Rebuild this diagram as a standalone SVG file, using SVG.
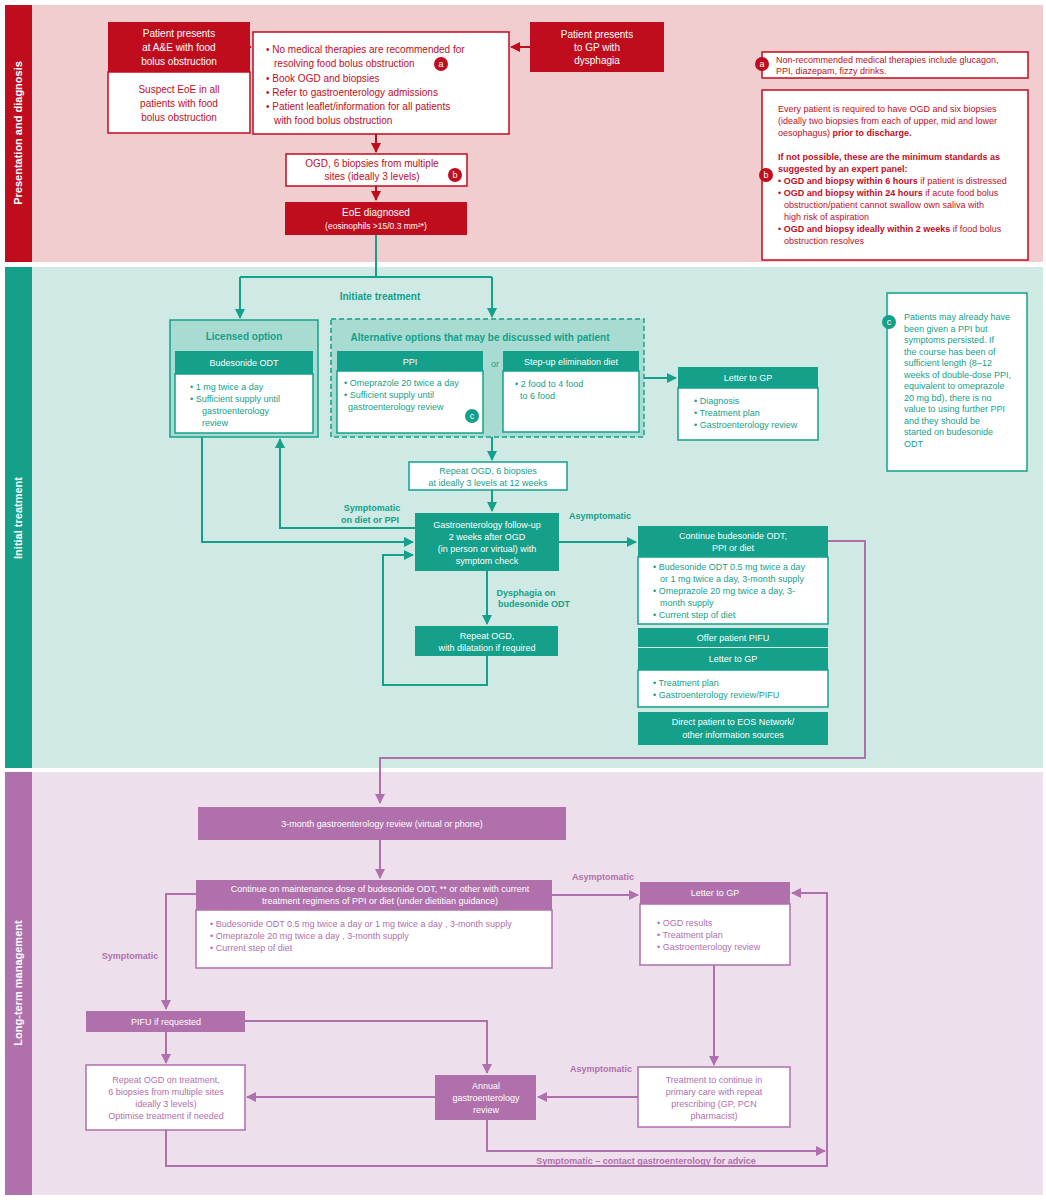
<svg xmlns="http://www.w3.org/2000/svg" width="1046" height="1200" viewBox="0 0 1046 1200">
<defs>
<marker id="ar" viewBox="0 0 10 10" refX="9" refY="5" markerWidth="5" markerHeight="5" orient="auto"><path d="M0,0 L10,5 L0,10 z" fill="#c00d1e"/></marker>
<marker id="at" viewBox="0 0 10 10" refX="9" refY="5" markerWidth="5" markerHeight="5" orient="auto"><path d="M0,0 L10,5 L0,10 z" fill="#14a08a"/></marker>
<marker id="ap" viewBox="0 0 10 10" refX="9" refY="5" markerWidth="5" markerHeight="5" orient="auto"><path d="M0,0 L10,5 L0,10 z" fill="#b070ac"/></marker>
</defs>
<style>
text{font-family:"Liberation Sans",Arial,sans-serif;font-size:10px}
.c{text-anchor:middle}
.w{fill:#fff}
.r{fill:#c00d1e}
.t{fill:#14a08a}
.p{fill:#b070ac}
.b{font-weight:bold}
.s{font-size:9px}
.n{font-size:8.5px}
.h{font-size:11px}
.rb{fill:#fff;stroke:#c00d1e;stroke-width:1.5}
.rf{fill:#c00d1e}
.tb{fill:#fff;stroke:#14a08a;stroke-width:1.5}
.tf{fill:#14a08a}
.pb{fill:#fff;stroke:#b070ac;stroke-width:1.5}
.pf{fill:#b070ac}
.lr{stroke:#c00d1e;stroke-width:2;fill:none}
.lt{stroke:#14a08a;stroke-width:2;fill:none}
.lp{stroke:#b070ac;stroke-width:2;fill:none}
</style>
<rect width="1046" height="1200" fill="#fff"/>
<rect x="5" y="5" width="1038" height="257" fill="#f2cdd0"/>
<rect x="5" y="5" width="27" height="257" fill="#c00d1e"/>
<text class="w b c h" transform="translate(22,133) rotate(-90)">Presentation and diagnosis</text>
<rect x="5" y="267" width="1038" height="501" fill="#cfe9e4"/>
<rect x="5" y="267" width="27" height="501" fill="#14a08a"/>
<text class="w b c h" transform="translate(22,518) rotate(-90)">Initial treatment</text>
<rect x="5" y="772" width="1038" height="423" fill="#eedfec"/>
<rect x="5" y="772" width="27" height="423" fill="#b070ac"/>
<text class="w b c h" transform="translate(22,983) rotate(-90)">Long-term management</text>

<g id="connectors">
<path class="lr" d="M222,47 H251" marker-end="url(#ar)"/>
<path class="lr" d="M530,47 H511" marker-end="url(#ar)"/>
<path class="lr" d="M376,134 V152" marker-end="url(#ar)"/>
<path class="lr" d="M376,186 V200" marker-end="url(#ar)"/>
<path class="lt" d="M376,235 V277 M240,277 H492"/>
<path class="lt" d="M240,277 V318" marker-end="url(#at)"/>
<path class="lt" d="M492,277 V317" marker-end="url(#at)"/>
<path class="lt" d="M644,378 H676" marker-end="url(#at)"/>
<path class="lt" d="M492,437 V460" marker-end="url(#at)"/>
<path class="lt" d="M492,490 V511" marker-end="url(#at)"/>
<path class="lt" d="M202,437 V542 H413" marker-end="url(#at)"/>
<path class="lt" d="M415,528 H280 V439" marker-end="url(#at)"/>
<path class="lt" d="M559,542 H636" marker-end="url(#at)"/>
<path class="lt" d="M487,571 V624" marker-end="url(#at)"/>
<path class="lt" d="M487,656 V685 H383 V555 H413" marker-end="url(#at)"/>
<path class="lp" d="M828,541 H865 V758 H380 V803" marker-end="url(#ap)"/>
<path class="lp" d="M380,840 V878" marker-end="url(#ap)"/>
<path class="lp" d="M552,895 H638" marker-end="url(#ap)"/>
<path class="lp" d="M196,894 H166 V1009" marker-end="url(#ap)"/>
<path class="lp" d="M166,1032 V1063" marker-end="url(#ap)"/>
<path class="lp" d="M245,1021 H487 V1073" marker-end="url(#ap)"/>
<path class="lp" d="M714,965 V1065" marker-end="url(#ap)"/>
<path class="lp" d="M638,1097 H538" marker-end="url(#ap)"/>
<path class="lp" d="M435,1097 H247" marker-end="url(#ap)"/>
<path class="lp" d="M487,1120 V1151 H825" marker-end="url(#ap)"/>
<path class="lp" d="M166,1130 V1166 H827 V893 H792" marker-end="url(#ap)"/>
<text class="t b c" x="380" y="300">Initiate treatment</text>
<text class="t b c s" x="372" y="511">Symptomatic</text>
<text class="t b c s" x="370" y="523">on diet or PPI</text>
<text class="t b c s" x="600" y="519">Asymptomatic</text>
<text class="t b c s" x="526" y="596">Dysphagia on</text>
<text class="t b c s" x="534" y="607">budesonide ODT</text>
<text class="p b c s" x="603" y="880">Asymptomatic</text>
<text class="p b c s" x="130" y="959">Symptomatic</text>
<text class="p b c s" x="601" y="1072">Asymptomatic</text>
<text class="p b c s" x="646" y="1164">Symptomatic – contact gastroenterology for advice</text>
</g>

<g id="ae">
<rect class="rf" x="108" y="22" width="142" height="50"/>
<rect class="rb" x="108" y="72" width="142" height="61"/>
<text class="w c" x="179" y="37">Patient presents</text>
<text class="w c" x="179" y="51">at A&amp;E with food</text>
<text class="w c" x="179" y="65">bolus obstruction</text>
<text class="r c" x="179" y="93">Suspect EoE in all</text>
<text class="r c" x="179" y="107">patients with food</text>
<text class="r c" x="179" y="121">bolus obstruction</text>
</g>
<g id="center">
<rect class="rb" x="253" y="32" width="256" height="102"/>
<text class="r" x="266" y="53">• No medical therapies are recommended for</text>
<text class="r" x="274" y="67">resolving food bolus obstruction</text>
<circle cx="441" cy="64" r="7" fill="#c00d1e"/><text class="w c s" x="441" y="67">a</text>
<text class="r" x="266" y="82">• Book OGD and biopsies</text>
<text class="r" x="266" y="96">• Refer to gastroenterology admissions</text>
<text class="r" x="266" y="110">• Patient leaflet/information for all patients</text>
<text class="r" x="274" y="124">with food bolus obstruction</text>
</g>
<g id="gp">
<rect class="rf" x="530" y="22" width="134" height="50"/>
<text class="w c" x="597" y="38">Patient presents</text>
<text class="w c" x="597" y="51">to GP with</text>
<text class="w c" x="597" y="64">dysphagia</text>
</g>
<g id="ogd">
<rect class="rb" x="286" y="154" width="181" height="32"/>
<text class="r c" x="372" y="167">OGD, 6 biopsies from multiple</text>
<text class="r c" x="372" y="180">sites (ideally 3 levels)</text>
<circle cx="455" cy="175" r="7" fill="#c00d1e"/><text class="w c s" x="455" y="178">b</text>
</g>
<g id="eoe">
<rect class="rf" x="285" y="202" width="182" height="33"/>
<text class="w c" x="376" y="216">EoE diagnosed</text>
<text class="w c n" x="376" y="229">(eosinophils &gt;15/0.3 mm²*)</text>
</g>
<g id="note-a">
<rect class="rb" x="762" y="52" width="266" height="26"/>
<circle cx="762" cy="64" r="7" fill="#c00d1e"/><text class="w c s" x="762" y="67">a</text>
<text class="r s" x="776" y="63">Non-recommended medical therapies include glucagon,</text>
<text class="r s" x="776" y="74">PPI, diazepam, fizzy drinks.</text>
</g>
<g id="note-b">
<rect class="rb" x="762" y="90" width="266" height="170"/>
<circle cx="766" cy="175" r="7" fill="#c00d1e"/><text class="w c s" x="766" y="178">b</text>
<text class="r s" x="778" y="112">Every patient is required to have OGD and six biopsies</text>
<text class="r s" x="778" y="124">(ideally two biopsies from each of upper, mid and lower</text>
<text class="r s" x="778" y="136">oesophagus) <tspan class="b">prior to discharge.</tspan></text>
<text class="r b s" x="778" y="160">If not possible, these are the minimum standards as</text>
<text class="r b s" x="778" y="172">suggested by an expert panel:</text>
<text class="r s" x="778" y="184">• <tspan class="b">OGD and biopsy within 6 hours</tspan> if patient is distressed</text>
<text class="r s" x="778" y="196">• <tspan class="b">OGD and biopsy within 24 hours</tspan> if acute food bolus</text>
<text class="r s" x="784" y="208">obstruction/patient cannot swallow own saliva with</text>
<text class="r s" x="784" y="220">high risk of aspiration</text>
<text class="r s" x="778" y="232">• <tspan class="b">OGD and biopsy ideally within 2 weeks</tspan> if food bolus</text>
<text class="r s" x="784" y="244">obstruction resolves</text>
</g>

<g id="licensed">
<rect x="170" y="320" width="148" height="117" fill="#a8dcd3" stroke="#14a08a" stroke-width="1.5"/>
<text class="t b c" x="244" y="340">Licensed option</text>
<rect class="tf" x="175" y="351" width="138" height="23"/>
<text class="w c s" x="244" y="366">Budesonide ODT</text>
<rect class="tb" x="175" y="374" width="138" height="59"/>
<text class="t s" x="190" y="390">•   1 mg twice a day</text>
<text class="t s" x="190" y="402">•   Sufficient supply until</text>
<text class="t s" x="202" y="414">gastroenterology</text>
<text class="t s" x="202" y="426">review</text>
</g>
<g id="alternative">
<rect x="331" y="319" width="313" height="118" fill="#a8dcd3" stroke="#14a08a" stroke-width="1.5" stroke-dasharray="5,3"/>
<text class="t b c" x="480" y="341">Alternative options that may be discussed with patient</text>
<rect class="tf" x="337" y="351" width="146" height="20"/>
<text class="w c s" x="410" y="365">PPI</text>
<rect class="tb" x="337" y="371" width="146" height="62"/>
<text class="t s" x="344" y="386">• Omeprazole 20 twice a day</text>
<text class="t s" x="344" y="398">• Sufficient supply until</text>
<text class="t s" x="348" y="410">gastroenterology review</text>
<circle cx="472" cy="416" r="7" fill="#14a08a"/><text class="w c s" x="472" y="419">c</text>
<text class="t c s" x="495" y="367">or</text>
<rect class="tf" x="503" y="351" width="136" height="20"/>
<text class="w c s" x="571" y="365">Step-up elimination diet</text>
<rect class="tb" x="503" y="371" width="136" height="61"/>
<text class="t s" x="515" y="387">• 2 food to 4 food</text>
<text class="t s" x="520" y="399">to 6 food</text>
</g>
<g id="letter1">
<rect class="tf" x="678" y="367" width="140" height="21"/>
<text class="w c s" x="748" y="381">Letter to GP</text>
<rect class="tb" x="678" y="388" width="140" height="52"/>
<text class="t s" x="694" y="404">• Diagnosis</text>
<text class="t s" x="694" y="416">• Treatment plan</text>
<text class="t s" x="694" y="428">• Gastroenterology review</text>
</g>
<g id="note-c">
<rect class="tb" x="887" y="293" width="140" height="178"/>
<circle cx="889" cy="322" r="7" fill="#14a08a"/><text class="w c s" x="889" y="325">c</text>
<text class="t s" x="904" y="320">Patients may already have</text>
<text class="t s" x="904" y="331.5">been given a PPI but</text>
<text class="t s" x="904" y="343">symptoms persisted. If</text>
<text class="t s" x="904" y="354.5">the course has been of</text>
<text class="t s" x="904" y="366">sufficient length (8–12</text>
<text class="t s" x="904" y="377.5">weeks of double-dose PPI,</text>
<text class="t s" x="904" y="389">equivalent to omeprazole</text>
<text class="t s" x="904" y="400.5">20 mg bd), there is no</text>
<text class="t s" x="904" y="412">value to using further PPI</text>
<text class="t s" x="904" y="423.5">and they should be</text>
<text class="t s" x="904" y="435">started on budesonide</text>
<text class="t s" x="904" y="446.5">ODT</text>
</g>
<g id="repeat-ogd">
<rect class="tb" x="409" y="462" width="158" height="28"/>
<text class="t c s" x="488" y="474">Repeat OGD, 6 biopsies</text>
<text class="t c s" x="488" y="486">at ideally 3 levels at 12 weeks</text>
</g>
<g id="followup">
<rect class="tf" x="415" y="513" width="144" height="58"/>
<text class="w c s" x="487" y="528">Gastroenterology follow-up</text>
<text class="w c s" x="487" y="540">2 weeks after OGD</text>
<text class="w c s" x="487" y="552">(in person or virtual) with</text>
<text class="w c s" x="487" y="564">symptom check</text>
</g>
<g id="dilatation">
<rect class="tf" x="415" y="626" width="143" height="30"/>
<text class="w c s" x="487" y="639">Repeat OGD,</text>
<text class="w c s" x="487" y="651">with dilatation if required</text>
</g>
<g id="continue">
<rect class="tf" x="638" y="526" width="190" height="31"/>
<text class="w c s" x="733" y="539">Continue budesonide ODT,</text>
<text class="w c s" x="733" y="551">PPI or diet</text>
<rect class="tb" x="638" y="557" width="190" height="67"/>
<text class="t s" x="653" y="570">• Budesonide ODT 0.5 mg twice a day</text>
<text class="t s" x="660" y="582">or 1 mg twice a day, 3-month supply</text>
<text class="t s" x="653" y="594">• Omeprazole 20 mg twice a day, 3-</text>
<text class="t s" x="660" y="606">month supply</text>
<text class="t s" x="653" y="618">• Current step of diet</text>
<rect class="tf" x="638" y="628" width="190" height="19"/>
<text class="w c s" x="733" y="641">Offer patient PIFU</text>
<rect class="tf" x="638" y="648" width="190" height="22"/>
<text class="w c s" x="733" y="662">Letter to GP</text>
<rect class="tb" x="638" y="670" width="190" height="37"/>
<text class="t s" x="653" y="686">• Treatment plan</text>
<text class="t s" x="653" y="698">• Gastroenterology review/PIFU</text>
<rect class="tf" x="638" y="712" width="190" height="33"/>
<text class="w c s" x="733" y="725">Direct patient to EOS Network/</text>
<text class="w c s" x="733" y="738">other information sources</text>
</g>

<g id="review3m">
<rect class="pf" x="198" y="807" width="368" height="33"/>
<text class="w c s" x="382" y="827">3-month gastroenterology review (virtual or phone)</text>
</g>
<g id="maintenance">
<rect class="pf" x="196" y="880" width="356" height="30"/>
<text class="w c s" x="380" y="892">Continue on maintenance dose of budesonide ODT, ** or other with current</text>
<text class="w c s" x="380" y="904">treatment regimens of PPI or diet (under dietitian guidance)</text>
<rect class="pb" x="196" y="910" width="356" height="58"/>
<text class="p s" x="210" y="927">• Budesonide ODT 0.5 mg twice a day or 1 mg twice a day , 3-month supply</text>
<text class="p s" x="210" y="939">• Omeprazole 20 mg twice a day , 3-month supply</text>
<text class="p s" x="210" y="951">• Current step of diet</text>
</g>
<g id="letter2">
<rect class="pf" x="640" y="882" width="150" height="22"/>
<text class="w c s" x="715" y="896">Letter to GP</text>
<rect class="pb" x="640" y="904" width="150" height="61"/>
<text class="p s" x="657" y="926">• OGD results</text>
<text class="p s" x="657" y="938">• Treatment plan</text>
<text class="p s" x="657" y="950">• Gastroenterology review</text>
</g>
<g id="pifu">
<rect class="pf" x="86" y="1011" width="159" height="21"/>
<text class="w c s" x="166" y="1025">PIFU if requested</text>
</g>
<g id="repeat-ogd-2">
<rect class="pb" x="86" y="1065" width="159" height="65"/>
<text class="p c s" x="166" y="1083">Repeat OGD on treatment,</text>
<text class="p c s" x="166" y="1095">6 biopsies from multiple sites</text>
<text class="p c s" x="166" y="1107">ideally 3 levels)</text>
<text class="p c s" x="166" y="1119">Optimise treatment if needed</text>
</g>
<g id="annual">
<rect class="pf" x="435" y="1075" width="101" height="45"/>
<text class="w c s" x="486" y="1089">Annual</text>
<text class="w c s" x="486" y="1101">gastroenterology</text>
<text class="w c s" x="486" y="1113">review</text>
</g>
<g id="primary">
<rect class="pb" x="638" y="1067" width="152" height="60"/>
<text class="p c s" x="714" y="1083">Treatment to continue in</text>
<text class="p c s" x="714" y="1095">primary care with repeat</text>
<text class="p c s" x="714" y="1107">prescribing (GP, PCN</text>
<text class="p c s" x="714" y="1119">pharmacist)</text>
</g>
</svg>
